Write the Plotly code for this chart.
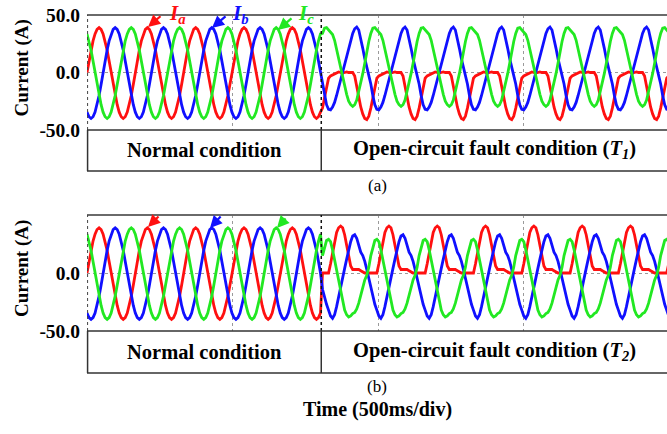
import plotly.graph_objects as go

# ---------------- data ----------------
# one cycle sampled every 15 deg, starting at the rising zero crossing of Ia
PERIOD_MS = 166.0      # 3 cycles per 500 ms division
FAULT_MS = 805.0       # instant of the open-circuit fault
N_CYCLES = 13
X_RANGE = [0, 1993]
GRID_MS = [0, 500, 1000, 1500]

# normal condition (both panels)
ia_normal = [0, 10, 19.5, 27.5, 33.5, 37.5, 39, 37.5, 33.5, 27.5, 19.5, 10,
             0, -10.5, -20, -28, -34.5, -38.5, -40, -38.5, -34.5, -28, -20, -10.5]
ib_normal = [-34.5, -38.5, -40, -38.5, -34.5, -28, -20, -10.5, 0, 10, 19.5, 27.5,
             33.5, 37.5, 39, 37.5, 33.5, 27.5, 19.5, 10, 0, -10.5, -20, -28]
ic_normal = [33.5, 27.5, 19.5, 10, 0, -10.5, -20, -28, -34.5, -38.5, -40, -38.5,
             -34.5, -28, -20, -10.5, 0, 10, 19.5, 27.5, 33.5, 37.5, 39, 37.5]

# open-circuit fault of T1
ia_t1 = [-5, -3, -2, -1, 0, 0.5, 0, -0.5, 0, 0.5, 0, 0,
         0, -3, -12, -22, -30, -36, -40, -41, -38, -31, -22, -12]
ib_t1 = [-32, -32.5, -30, -26, -20, -13, -6, 0, 7, 14, 21, 28,
         34, 38, 39.5, 37, 30, 21, 12, 5, -1, -10, -20, -28]
ic_t1 = [37, 35, 33, 28, 20, 11, 3, -5, -12, -19, -25, -28,
         -29.5, -28, -24, -17, -9, -1, 8, 18, 27, 34, 38.5, 39]

# open-circuit fault of T2
ia_t2 = [0, 8, 18, 28, 35, 39, 40.5, 39, 33, 24, 14, 6,
         3, 3, 3, 3, 2, 1, 0, 0, 0, 0, 0, 0]
ib_t2 = [-32, -37, -39, -36, -29, -20, -12, -4, 4, 12, 20, 27,
         32, 33, 30, 24, 18, 15, 10, 3, -5, -14, -22, -27]
ic_t2 = [29, 27, 20, 11, 3, -7, -16, -25, -32, -36, -38, -37,
         -35, -34, -31, -26, -19, -12, -6, -2, 5, 15, 23, 28]

PHASE_NAMES = ["I<sub>a</sub>", "I<sub>b</sub>", "I<sub>c</sub>"]
PHASE_COLORS = ["#ff1010", "#1010ff", "#22e822"]
Y_TICKS_A = [-50, 0, 50]
Y_TICKTEXT_A = ["-50.0", "0.0", "50.0"]
Y_TICKS_B = [-50, 0]
Y_TICKTEXT_B = ["-50.0", "0.0"]
LEFT_LABEL = "Normal condition"
RIGHT_LABEL_A = "Open-circuit fault condition (<i>T<sub>1</sub></i>)"
RIGHT_LABEL_B = "Open-circuit fault condition (<i>T<sub>2</sub></i>)"

# ---------------- build series ----------------
n = len(ia_normal)
times = []
idx = []
for k in range(N_CYCLES):
    for j in range(n):
        times.append(k * PERIOD_MS + j * PERIOD_MS / n)
        idx.append(j)


def series(normal, fault):
    return [normal[j] if t < FAULT_MS else fault[j] for t, j in zip(times, idx)]


W, H = 667, 434
ML = 87
PW = W - ML
FONT = "Liberation Serif"


def py(p):  # pixel y -> paper y
    return 1 - p / H


def px(p):  # pixel x -> paper x
    return (p - ML) / PW


fig = go.Figure()
panels = [
    ("x", "y", [ia_normal, ib_normal, ic_normal], [ia_t1, ib_t1, ic_t1]),
    ("x2", "y2", [ia_normal, ib_normal, ic_normal], [ia_t2, ib_t2, ic_t2]),
]
for xa, ya, normals, faults in panels:
    for name, col, nv, fv in zip(PHASE_NAMES, PHASE_COLORS, normals, faults):
        fig.add_trace(go.Scatter(x=times, y=series(nv, fv), mode="lines",
                                 line=dict(color=col, width=2.8),
                                 name=name, xaxis=xa, yaxis=ya,
                                 showlegend=False, hoverinfo="skip"))

# panel pixel geometry
PA = dict(top=15, bot=130, boxbot=171, cap=185)
PB = dict(top=215, bot=331, boxbot=373, cap=386)

axis_common = dict(showgrid=True, gridcolor="#9a9a9a", griddash="dot", gridwidth=1,
                   zeroline=False, showline=False, ticks="", automargin=False)
fig.update_layout(
    width=W, height=H, margin=dict(l=ML, r=0, t=0, b=0, autoexpand=False),
    paper_bgcolor="white", plot_bgcolor="white",
    xaxis=dict(domain=[0, 1], range=X_RANGE, tickvals=GRID_MS, showticklabels=False,
               anchor="y", **axis_common),
    yaxis=dict(domain=[py(PA["bot"]), py(PA["top"])], range=[-50, 50],
               tickvals=Y_TICKS_A, ticktext=["<b>%s</b>" % s for s in Y_TICKTEXT_A],
               tickfont=dict(family=FONT, size=19.5, color="black"),
               ticklabelstandoff=6, anchor="x", **axis_common),
    xaxis2=dict(domain=[0, 1], range=X_RANGE, tickvals=GRID_MS, showticklabels=False,
                anchor="y2", **axis_common),
    yaxis2=dict(domain=[py(PB["bot"]), py(PB["top"])], range=[-50, 50],
                tickvals=Y_TICKS_B, ticktext=["<b>%s</b>" % s for s in Y_TICKTEXT_B],
                tickfont=dict(family=FONT, size=19.5, color="black"),
                ticklabelstandoff=6, anchor="x2", **axis_common),
)

shapes = []
annots = []


def text_ann(x_px, y_px, text, size, color="black", angle=0):
    return dict(xref="paper", yref="paper", x=px(x_px), y=py(y_px), text=text,
                showarrow=False, xanchor="center", yanchor="middle", textangle=angle,
                borderpad=0, font=dict(family=FONT, size=size, color=color))


fault_px = ML + FAULT_MS / X_RANGE[1] * PW
for (xa, ya, pnl, right_label, cap) in [("x", "y", PA, RIGHT_LABEL_A, "(a)"),
                                         ("x2", "y2", PB, RIGHT_LABEL_B, "(b)")]:
    top, bot, bb = py(pnl["top"]), py(pnl["bot"]), py(pnl["boxbot"])
    shapes.append(dict(type="line", xref="paper", yref="paper", x0=0, x1=1, y0=top, y1=top,
                       line=dict(color="#6a6a6a", width=2)))
    shapes.append(dict(type="line", xref="paper", yref="paper", x0=0.001, x1=0.001, y0=bot, y1=top,
                       line=dict(color="#444", width=1, dash="dot")))
    shapes.append(dict(type="line", xref=xa, yref="paper", x0=FAULT_MS, x1=FAULT_MS, y0=bot, y1=top,
                       line=dict(color="#111", width=1.5, dash="dot")))
    shapes.append(dict(type="line", xref="paper", yref="paper", x0=0, x1=1, y0=bot, y1=bot,
                       line=dict(color="#333", width=1.5)))
    shapes.append(dict(type="line", xref="paper", yref="paper", x0=0, x1=1, y0=bb, y1=bb,
                       line=dict(color="#333", width=1.5)))
    shapes.append(dict(type="line", xref="paper", yref="paper", x0=0.001, x1=0.001, y0=bb, y1=bot,
                       line=dict(color="#333", width=1.5)))
    shapes.append(dict(type="line", xref=xa, yref="paper", x0=FAULT_MS, x1=FAULT_MS, y0=bb, y1=bot,
                       line=dict(color="#333", width=1.5)))
    mid = (pnl["bot"] + pnl["boxbot"]) / 2 - 0.5
    annots.append(text_ann((ML + fault_px) / 2, mid, "<b>%s</b>" % LEFT_LABEL, 20.5))
    annots.append(text_ann((fault_px + W) / 2, mid, "<b>%s</b>" % right_label, 20.5))
    annots.append(text_ann(377, pnl["cap"], cap, 17))
    annots.append(text_ann(22, (pnl["top"] + pnl["bot"]) / 2 - 4, "<b>Current (A)</b>", 19,
                           angle=-90))

annots.append(text_ann(377, 409, "<b>Time (500ms/div)</b>", 20))

# phase arrows (tip px, tail px) and labels for panel (a)
arrows_a = [((148, 27), (162, 15)), ((212, 28), (227, 15)), ((278, 30), (293, 17))]
arrows_b = [((148, 227), (160, 215)), ((210, 228), (222, 215)), ((277, 228), (287, 217))]
label_pos_a = [(177, 14), (240, 14), (306, 14)]
for arrows in (arrows_a, arrows_b):
    for (tip, tail), col in zip(arrows, PHASE_COLORS):
        annots.append(dict(xref="paper", yref="paper", x=px(tip[0]), y=py(tip[1]),
                           ax=tail[0] - tip[0], ay=tail[1] - tip[1], text="",
                           showarrow=True, arrowhead=2, arrowsize=1.1, arrowwidth=2.2,
                           arrowcolor=col, standoff=0))
for (lx, ly), col, name in zip(label_pos_a, PHASE_COLORS, PHASE_NAMES):
    annots.append(text_ann(lx, ly, "<b><i>%s</i></b>" % name, 21, color=col))

fig.update_layout(shapes=shapes, annotations=annots)
fig.write_html("out.html")
